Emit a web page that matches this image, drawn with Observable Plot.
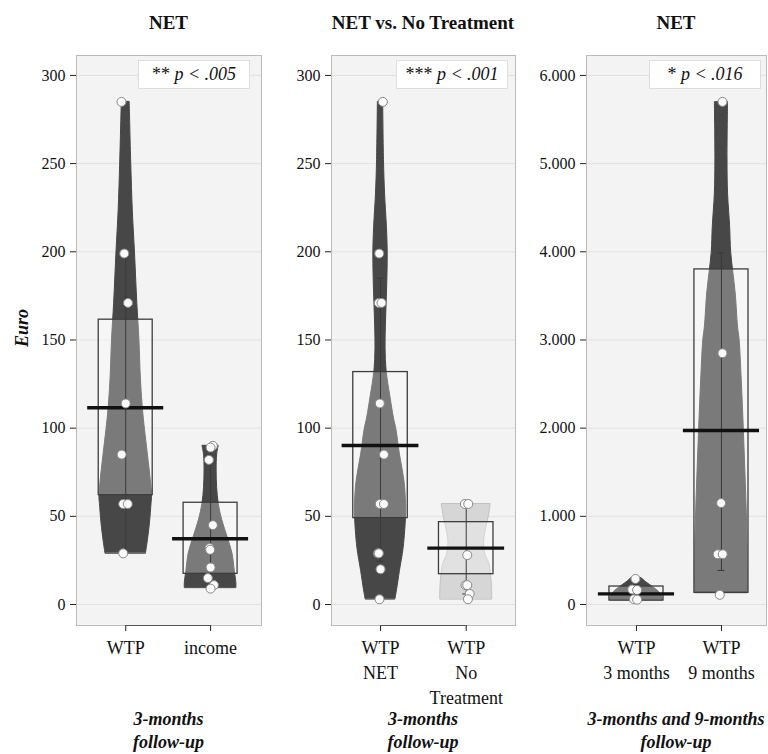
<!DOCTYPE html>
<html>
<head>
<meta charset="utf-8">
<script src="https://cdn.jsdelivr.net/npm/d3@7"></script>
<script src="https://cdn.jsdelivr.net/npm/@observablehq/plot@0.6"></script>
<style>
  body { margin: 0; background: #fff; font-family: "Liberation Serif", "Times New Roman", serif; color: #111; }
  #root { position: relative; width: 768px; height: 754px; overflow: hidden; }
  #root svg, #root svg text { font-family: "Liberation Serif", "Times New Roman", serif !important; }
  .panel { position: absolute; top: 40px; }
  .title { position: absolute; top: 12px; font-weight: bold; font-size: 19px; text-align: center; white-space: nowrap; transform: translateX(-50%); }
  .caption { position: absolute; top: 708px; font-weight: bold; font-style: italic; font-size: 18px; line-height: 23px; text-align: center; white-space: nowrap; transform: translateX(-50%); }
  .pbox { position: absolute; top: 60px; width: 110px; height: 27px; background: #fff; border: 1px solid #dedede; font-size: 18px; line-height: 27px; text-align: center; white-space: nowrap; }
  .pbox i { font-style: italic; }
  .ylab { position: absolute; left: 22px; top: 328px; font-weight: bold; font-style: italic; font-size: 18px; transform: translate(-50%, -50%) rotate(-90deg); }
</style>
</head>
<body>
<div id="root"></div>
<script>
// ---------- shared ticks ----------
const yTicksEuro = [0, 50, 100, 150, 200, 250, 300];
const yTicksEuroLarge = [0, 1000, 2000, 3000, 4000, 5000, 6000];

// ---------- Panel 1: NET, 3-months follow-up ----------
const p1Title = "NET";
const p1Caption = "3-months\nfollow-up";
const p1P = ["**", "p < .005"];
const p1Labels = ["WTP", "income"];
const p1WtpValues = [285, 199, 171, 114, 85, 57, 57, 29];
const p1WtpJitter = [-0.05, -0.017, 0.027, 0, -0.048, -0.03, 0.024, -0.03];
const p1IncomeValues = [90, 89, 82, 45, 32, 31, 21, 15, 11, 9];
const p1IncomeJitter = [0.027, 0, -0.02, 0.027, -0.012, -0.005, 0, -0.032, 0.04, 0];
const p1WtpDensY = [29, 35, 46, 57, 61, 72, 84, 108, 127, 150, 171, 200, 223, 250, 285];
const p1WtpDens  = [0.77, 0.83, 0.92, 0.98, 1.0, 0.94, 0.85, 0.67, 0.58, 0.52, 0.44, 0.35, 0.27, 0.21, 0.15];
const p1IncomeDensY = [9.5, 12, 19, 29, 38, 48, 57, 66, 76, 85, 90];
const p1IncomeDens  = [0.98, 0.98, 0.92, 0.83, 0.65, 0.44, 0.31, 0.25, 0.23, 0.25, 0.31];
const p1Means = [111.6, 37.3];
const p1BoxLow = [62, 17.4];
const p1BoxHigh = [161.5, 57.7];
const p1ErrLow = [30, 9.5];
const p1ErrHigh = [197, 90];

// ---------- Panel 2: NET vs. No Treatment ----------
const p2Title = "NET vs. No Treatment";
const p2Caption = "3-months\nfollow-up";
const p2P = ["***", "p < .001"];
const p2Labels = ["WTP\nNET", "WTP\nNo\nTreatment"];
const p2NetValues = [285, 199, 171, 171, 114, 85, 57, 57, 29, 29, 20, 3];
const p2NetJitter = [0.027, -0.015, -0.02, 0.012, -0.008, 0.04, -0.008, 0.04, -0.03, -0.02, 0, -0.012];
const p2NoTValues = [57, 57, 28, 11, 11, 6, 3];
const p2NoTJitter = [-0.016, 0.024, 0.012, -0.008, 0.012, 0.04, 0.02];
const p2NetDensY = [3, 8, 19, 32, 50, 57, 70, 85, 99, 106, 118, 132, 145, 157, 171, 186, 200, 214, 233, 252, 285];
const p2NetDens  = [0.56, 0.62, 0.73, 0.87, 0.96, 0.96, 0.90, 0.73, 0.60, 0.50, 0.37, 0.23, 0.19, 0.20, 0.23, 0.26, 0.27, 0.24, 0.17, 0.13, 0.10];
const p2NoTDensY = [3, 12, 23, 28, 35, 42, 50, 57];
const p2NoTDens  = [0.98, 0.96, 0.87, 0.73, 0.67, 0.73, 0.85, 0.92];
const p2Means = [90.2, 32.0];
const p2BoxLow = [49, 17.2];
const p2BoxHigh = [131.8, 46.7];
const p2ErrLow = [24.4, 6];
const p2ErrHigh = [185, 57];

// ---------- Panel 3: NET, 3-months and 9-months ----------
const p3Title = "NET";
const p3Caption = "3-months and 9-months\nfollow-up";
const p3P = ["*", "p < .016"];
const p3Labels = ["WTP\n3 months", "WTP\n9 months"];
const p3M3Values = [290, 170, 165, 60, 55];
const p3M3Jitter = [-0.012, -0.05, 0.008, -0.03, 0.008];
const p3M9Values = [5700, 2850, 1150, 570, 570, 110];
const p3M9Jitter = [0.012, 0.012, -0.004, -0.044, 0.015, -0.02];
const p3M3DensY = [50, 60, 100, 150, 200, 250, 300];
const p3M3Dens  = [1.0, 1.0, 0.96, 0.83, 0.62, 0.38, 0.19];
const p3M9DensY = [133, 272, 839, 1407, 1974, 2541, 2995, 3145, 3527, 3990, 4280, 4662, 5036, 5697];
const p3M9Dens  = [1.0, 1.0, 0.98, 0.92, 0.85, 0.77, 0.69, 0.63, 0.54, 0.37, 0.33, 0.25, 0.23, 0.25];
const p3Means = [121, 1974];
const p3BoxLow = [45, 133];
const p3BoxHigh = [204, 3800];
const p3ErrLow = [60, 386];
const p3ErrHigh = [230, 3989];

// ---------- styling constants ----------
const DARK = "#474747";
const LIGHT = "#d6d6d6";
const HALF_VIOLIN = 0.31, HALF_BOX = 0.318, HALF_MEAN = 0.448, HALF_CAP = 0.04;

function group(pos, values, jitter, densY, dens, mean, boxLo, boxHi, errLo, errHi, fill, stroke) {
  return {pos, values, jitter, densY, dens, mean, boxLo, boxHi, errLo, errHi, fill, stroke};
}

function makePanel({groups, labels, xDomain, yDomain, yTicks, yFormat, width, marginLeft, marginRight}) {
  const marks = [
    Plot.frame({fill: "#f3f3f3", stroke: null}),
    Plot.gridY(yTicks, {stroke: "#e2e2e2", strokeOpacity: 1})
  ];
  for (const g of groups) {
    const shape = g.densY.map((y, i) => ({y, d: g.dens[i]}));
    marks.push(Plot.areaX(shape, {
      y: "y", x1: d => g.pos - d.d * HALF_VIOLIN, x2: d => g.pos + d.d * HALF_VIOLIN,
      fill: g.fill, stroke: g.stroke, strokeWidth: 1, curve: "catmull-rom"
    }));
    marks.push(Plot.rect([g], {
      x1: d => d.pos - HALF_BOX, x2: d => d.pos + HALF_BOX, y1: "boxLo", y2: "boxHi",
      fill: "white", fillOpacity: 0.28, stroke: "#3d3d3d", strokeWidth: 1.3
    }));
    marks.push(Plot.ruleX([g], {x: "pos", y1: "errLo", y2: "errHi", stroke: "#3a3a3a", strokeWidth: 1}));
    marks.push(Plot.ruleY([g.errLo, g.errHi], {x1: g.pos - HALF_CAP, x2: g.pos + HALF_CAP, stroke: "#3a3a3a", strokeWidth: 1}));
    marks.push(Plot.ruleY([g.mean], {x1: g.pos - HALF_MEAN, x2: g.pos + HALF_MEAN, stroke: "#111", strokeWidth: 3.4}));
    marks.push(Plot.dot(g.values, {
      x: (d, i) => g.pos + g.jitter[i], y: d => d, r: 4.5,
      fill: "#fafafa", stroke: "#888", strokeWidth: 1
    }));
  }
  marks.push(Plot.frame({stroke: "#bbbbbb", strokeWidth: 1}));
  marks.push(Plot.axisY(yTicks, {tickSize: 6, tickPadding: 5, fontSize: 16, tickFormat: yFormat, stroke: "#222", label: null}));
  marks.push(Plot.axisX([1, 2], {tickSize: 6, tickPadding: 5, fontSize: 18, lineHeight: 1.39, tickFormat: d => labels[d - 1], stroke: "#222", label: null}));
  marks.push(Plot.ruleY([yDomain[0]], {x1: 1, x2: 2, stroke: "#555", strokeWidth: 1.2}));
  return Plot.plot({
    width, height: 670,
    marginTop: 15, marginBottom: 85, marginLeft, marginRight,
    style: {fontFamily: "'Liberation Serif', 'Times New Roman', serif", color: "#111", background: "transparent", overflow: "visible"},
    x: {domain: xDomain, label: null},
    y: {domain: yDomain, label: null},
    marks
  });
}

const fmtEuro = d => String(d);
const fmtLarge = d => d3.format(",")(d).replace(/,/g, ".");

const panels = [
  {
    left: 0, width: 265, marginLeft: 76, marginRight: 4, xDomain: [0.42, 2.6],
    yDomain: [-11.9, 311.3], yTicks: yTicksEuro, yFormat: fmtEuro, labels: p1Labels,
    title: p1Title, caption: p1Caption, p: p1P, pLeft: 138,
    groups: [
      group(1, p1WtpValues, p1WtpJitter, p1WtpDensY, p1WtpDens, p1Means[0], p1BoxLow[0], p1BoxHigh[0], p1ErrLow[0], p1ErrHigh[0], DARK, DARK),
      group(2, p1IncomeValues, p1IncomeJitter, p1IncomeDensY, p1IncomeDens, p1Means[1], p1BoxLow[1], p1BoxHigh[1], p1ErrLow[1], p1ErrHigh[1], DARK, DARK)
    ]
  },
  {
    left: 265, width: 255, marginLeft: 66, marginRight: 5, xDomain: [0.428, 2.575],
    yDomain: [-11.9, 311.3], yTicks: yTicksEuro, yFormat: fmtEuro, labels: p2Labels,
    title: p2Title, caption: p2Caption, p: p2P, pLeft: 396,
    groups: [
      group(1, p2NetValues, p2NetJitter, p2NetDensY, p2NetDens, p2Means[0], p2BoxLow[0], p2BoxHigh[0], p2ErrLow[0], p2ErrHigh[0], DARK, DARK),
      group(2, p2NoTValues, p2NoTJitter, p2NoTDensY, p2NoTDens, p2Means[1], p2BoxLow[1], p2BoxHigh[1], p2ErrLow[1], p2ErrHigh[1], LIGHT, "#c2c2c2")
    ]
  },
  {
    left: 520, width: 248, marginLeft: 66, marginRight: 2, xDomain: [0.412, 2.53],
    yDomain: [-238, 6226], yTicks: yTicksEuroLarge, yFormat: fmtLarge, labels: p3Labels,
    title: p3Title, caption: p3Caption, p: p3P, pLeft: 649,
    groups: [
      group(1, p3M3Values, p3M3Jitter, p3M3DensY, p3M3Dens, p3Means[0], p3BoxLow[0], p3BoxHigh[0], p3ErrLow[0], p3ErrHigh[0], DARK, DARK),
      group(2, p3M9Values, p3M9Jitter, p3M9DensY, p3M9Dens, p3Means[1], p3BoxLow[1], p3BoxHigh[1], p3ErrLow[1], p3ErrHigh[1], DARK, DARK)
    ]
  }
];

const root = document.getElementById("root");
for (const p of panels) {
  const wrap = document.createElement("div");
  wrap.className = "panel";
  wrap.style.left = p.left + "px";
  wrap.appendChild(makePanel(p));
  root.appendChild(wrap);

  const center = p.left + p.marginLeft + (p.width - p.marginLeft - p.marginRight) / 2;
  const t = document.createElement("div");
  t.className = "title";
  t.style.left = center + "px";
  t.textContent = p.title;
  root.appendChild(t);

  const c = document.createElement("div");
  c.className = "caption";
  c.style.left = center + "px";
  c.innerHTML = p.caption.split("\n").join("<br>");
  root.appendChild(c);

  const b = document.createElement("div");
  b.className = "pbox";
  b.style.left = p.pLeft + "px";
  b.innerHTML = p.p[0] + " <i>" + p.p[1].replace("<", "&lt;") + "</i>";
  root.appendChild(b);
}
const yl = document.createElement("div");
yl.className = "ylab";
yl.textContent = "Euro";
root.appendChild(yl);
</script>
</body>
</html>
